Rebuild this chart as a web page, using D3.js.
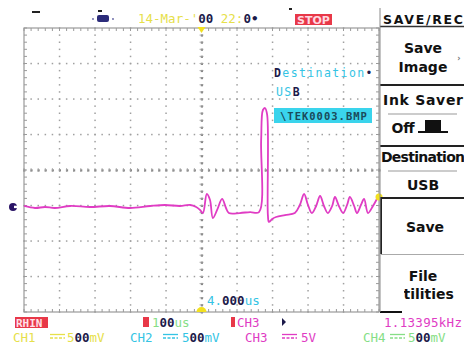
<!DOCTYPE html>
<html><head><meta charset="utf-8">
<script src="https://cdn.jsdelivr.net/npm/d3@7"></script>
<style>body{margin:0;background:#fff}svg{display:block}</style>
</head><body>
<script>
// ---- data (CH3, 5 V/div, 1 us/div) ----
const timeUs = [-5.00,-4.69,-4.41,-4.13,-3.70,-3.14,-2.58,-2.01,-1.45,-1.03,
  -0.61,-0.32,-0.15,-0.04,0.04,0.15,0.24,0.32,0.44,0.58,
  0.69,0.77,1.08,1.37,1.62,1.68,1.73,1.79,1.85,1.87,
  1.90,1.99,2.10,2.35,2.63,2.77,2.89,3.00,3.11,3.23,
  3.34,3.45,3.56,3.68,3.76,3.87,3.99,4.10,4.18,4.30,
  4.38,4.49,4.58,4.69,4.83,4.97];
const ch3Volts = [-5.07,-5.35,-5.21,-5.35,-5.07,-5.21,-5.07,-5.35,-5.07,-4.93,
  -5.07,-4.93,-5.21,-5.63,-6.06,-3.38,-4.23,-6.76,-5.63,-4.08,
  -5.35,-6.06,-6.06,-5.92,-5.92,4.23,8.45,8.73,7.75,-6.34,
  -7.32,-6.90,-6.62,-6.34,-6.06,-4.93,-3.38,-4.93,-6.06,-5.07,
  -3.66,-5.07,-6.06,-5.07,-3.80,-5.07,-6.06,-4.93,-3.80,-5.07,
  -6.06,-4.93,-4.08,-6.06,-5.07,-3.80];
const timeDomain = [-5, 5];      // 10 divisions
const voltDomain = [-20, 20];    // 8 divisions at 5 V/div
const ch3Ground = -5.2;
const triggerLevel = -3.8;
const menuTitle = "SAVE/REC";
const menuItems = [["Save","Image"],["Ink Saver","Off"],["Destination","USB"],["Save"],["File","Utilities"]];
const channelLabels = ["CH1","CH2","CH3","CH4"];
const channelScales = ["5","5","5V","5"];
const frequencyText = "1.13395kHz";

const W = 464, H = 345;
const svg = d3.select("body").append("svg").attr("width", W).attr("height", H);
const x = d3.scaleLinear().domain(timeDomain).range([24, 379]);
const y = d3.scaleLinear().domain(voltDomain).range([312, 28]);
const mono = "DejaVu Sans Mono";
const dark = "#1c1a4a";
const YEL = "#e6e04a", CYN = "#34c4e4", MAG = "#e03cc4", GRN = "#86de86";

// ---- graticule ----
const g = svg.append("g");
const gridCol = "#a0a0a0";
const minorX = d3.range(-5, 5.001, 0.2);
const minorY = d3.range(-20, 20.001, 1);
x.ticks(10).forEach(t => {
  if (t === -5 || t === 5) return;
  minorY.forEach(v => {
    g.append("rect").attr("x", x(t) - 0.7).attr("y", y(v) - 0.7)
      .attr("width", t === 0 ? 2.2 : 1.5).attr("height", t === 0 ? 2.2 : 1.5)
      .attr("fill", t === 0 ? "#858585" : gridCol);
  });
});
y.ticks(8).forEach(v => {
  if (v === -20 || v === 20) return;
  minorX.forEach(t => {
    g.append("rect").attr("x", x(t) - 0.7).attr("y", y(v) - 0.7)
      .attr("width", v === 0 ? 2.2 : 1.5).attr("height", v === 0 ? 2.2 : 1.5)
      .attr("fill", v === 0 ? "#858585" : gridCol);
  });
});
minorX.forEach(t => g.append("line").attr("x1", x(t)).attr("x2", x(t))
  .attr("y1", y(0) - 2).attr("y2", y(0) + 2).attr("stroke", "#a0a0a0").attr("stroke-width", 0.8));
minorY.forEach(v => g.append("line").attr("y1", y(v)).attr("y2", y(v))
  .attr("x1", x(0) - 2).attr("x2", x(0) + 2).attr("stroke", "#a0a0a0").attr("stroke-width", 0.8));
g.append("rect").attr("x", x(-5)).attr("y", y(20)).attr("width", x(5) - x(-5)).attr("height", y(-20) - y(20))
  .attr("fill", "none").attr("stroke", "#9a9a9a").attr("stroke-width", 1.2);
minorX.forEach(t => {
  g.append("line").attr("x1", x(t)).attr("x2", x(t)).attr("y1", y(20)).attr("y2", y(20) + 3).attr("stroke", "#9a9a9a");
  g.append("line").attr("x1", x(t)).attr("x2", x(t)).attr("y1", y(-20)).attr("y2", y(-20) - 3).attr("stroke", "#9a9a9a");
});
minorY.forEach(v => {
  g.append("line").attr("y1", y(v)).attr("y2", y(v)).attr("x1", x(-5)).attr("x2", x(-5) + 3).attr("stroke", "#9a9a9a");
  g.append("line").attr("y1", y(v)).attr("y2", y(v)).attr("x1", x(5)).attr("x2", x(5) - 3).attr("stroke", "#9a9a9a");
});

// ---- trace ----
const pts = timeUs.map((t, i) => [t, ch3Volts[i]]);
svg.append("path").datum(pts)
  .attr("d", d3.line().x(d => x(d[0])).y(d => y(d[1])).curve(d3.curveCatmullRom.alpha(0.5)))
  .attr("fill", "none").attr("stroke", MAG).attr("stroke-width", 1.8).attr("stroke-linejoin", "round");

// markers
svg.append("circle").attr("cx", 13).attr("cy", y(ch3Ground)).attr("r", 4).attr("fill", "#2a1466");
svg.append("rect").attr("x", 14).attr("y", y(ch3Ground) - 1.2).attr("width", 4).attr("height", 2.4).attr("fill", "#fff");
svg.append("path").attr("d", `M${x(0)-4},${y(20)-1}L${x(0)+4},${y(20)-1}L${x(0)},${y(20)+5}Z`).attr("fill", "#f2e020");
svg.append("path").attr("d", `M${x(0)-5},${y(-20)}A5,5 0 0 1 ${x(0)+5},${y(-20)}Z`).attr("fill", "#f2e020");
svg.append("circle").attr("cx", x(5)).attr("cy", y(triggerLevel)).attr("r", 3.5).attr("fill", "#f2e020");

// ---- overlay: destination info ----
const ov = svg.append("text").attr("x", 274).attr("y", 77).attr("font-family", mono).attr("font-size", 11.5)
  .attr("letter-spacing", 1.4);
ov.append("tspan").attr("fill", dark).attr("font-weight", "bold").text("D");
ov.append("tspan").attr("fill", CYN).text("estination");
ov.append("tspan").attr("fill", dark).text("•");
const ov2 = svg.append("text").attr("x", 276).attr("y", 96).attr("font-family", mono).attr("font-size", 11.5).attr("letter-spacing", 1.4);
ov2.append("tspan").attr("fill", CYN).text("US");
ov2.append("tspan").attr("fill", dark).attr("font-weight", "bold").text("B");
svg.append("rect").attr("x", 274).attr("y", 108).attr("width", 98).attr("height", 15).attr("fill", "#3ad4ec");
svg.append("text").attr("x", 280).attr("y", 119.5).attr("font-family", mono).attr("font-size", 10.5)
  .attr("fill", "#1a4a5a").attr("font-weight", "bold").attr("letter-spacing", 1).text("\\TEK0003.BMP");
const tp = svg.append("text").attr("x", 207).attr("y", 305).attr("font-family", mono).attr("font-size", 12.5);
tp.append("tspan").attr("fill", CYN).text("4.");
tp.append("tspan").attr("fill", dark).attr("font-weight", "bold").text("000");
tp.append("tspan").attr("fill", CYN).text("us");

// ---- top status line ----
svg.append("rect").attr("x", 32).attr("y", 11).attr("width", 8).attr("height", 2).attr("fill", "#222");
svg.append("rect").attr("x", 98).attr("y", 10).attr("width", 4).attr("height", 2).attr("fill", "#222");
svg.append("rect").attr("x", 289).attr("y", 8).attr("width", 3).attr("height", 2).attr("fill", "#222");
svg.append("circle").attr("cx", 93).attr("cy", 19).attr("r", 0.9).attr("fill", "#6060a0");
svg.append("rect").attr("x", 97).attr("y", 15).attr("width", 12).attr("height", 7).attr("rx", 2).attr("fill", "#2c2c7a");
svg.append("circle").attr("cx", 113).attr("cy", 19).attr("r", 0.9).attr("fill", "#6060a0");
const dt = svg.append("text").attr("x", 138).attr("y", 23).attr("font-family", mono).attr("font-size", 12.5);
dt.append("tspan").attr("fill", YEL).text("14-Mar-'");
dt.append("tspan").attr("fill", dark).attr("font-weight", "bold").text("00");
dt.append("tspan").attr("fill", YEL).text(" 22:");
dt.append("tspan").attr("fill", dark).attr("font-weight", "bold").text("0•");
svg.append("rect").attr("x", 295).attr("y", 14).attr("width", 37).attr("height", 11).attr("fill", "#e83848");
svg.append("text").attr("x", 313.5).attr("y", 23.5).attr("text-anchor", "middle").attr("font-family", "DejaVu Sans")
  .attr("font-weight", "bold").attr("font-size", 11).attr("fill", "#ffd8e0").text("STOP");

// ---- right menu ----
const m = svg.append("g").attr("font-family", "DejaVu Sans").attr("font-weight", "bold").attr("fill", "#111").attr("text-anchor", "middle");
m.append("text").attr("x", 423).attr("y", 23.5).attr("font-size", 12.5).attr("textLength", 80).text(menuTitle);
m.append("line").attr("x1", 380).attr("x2", 464).attr("y1", 26.5).attr("y2", 26.5).attr("stroke", "#333").attr("stroke-width", 1.3);
svg.append("line").attr("x1", 380).attr("x2", 380).attr("y1", 8).attr("y2", 312).attr("stroke", "#8a8a8a").attr("stroke-width", 1);
m.append("text").attr("x", 423).attr("y", 53).attr("font-size", 14).text(menuItems[0][0]);
m.append("text").attr("x", 423).attr("y", 72).attr("font-size", 14).text(menuItems[0][1]);
m.append("text").attr("x", 459).attr("y", 61).attr("font-size", 8).attr("fill", "#777").text("›");
m.append("line").attr("x1", 380).attr("x2", 464).attr("y1", 85).attr("y2", 85).attr("stroke", "#222").attr("stroke-width", 2);
m.append("text").attr("x", 423).attr("y", 105).attr("font-size", 14).attr("textLength", 80).text(menuItems[1][0]);
m.append("line").attr("x1", 388).attr("x2", 457).attr("y1", 114).attr("y2", 114).attr("stroke", "#999").attr("stroke-width", 1.2);
m.append("text").attr("x", 403).attr("y", 133).attr("font-size", 14).text(menuItems[1][1]);
m.append("path").attr("d", "M418,133L448,133L448,131L441,131L441,120L425,120L425,131L418,131Z").attr("fill", "#111");
m.append("line").attr("x1", 380).attr("x2", 464).attr("y1", 146).attr("y2", 146).attr("stroke", "#222").attr("stroke-width", 2);
m.append("text").attr("x", 423).attr("y", 162).attr("font-size", 14).attr("textLength", 84).text(menuItems[2][0]);
m.append("line").attr("x1", 388).attr("x2", 457).attr("y1", 171).attr("y2", 171).attr("stroke", "#999").attr("stroke-width", 1.2);
m.append("text").attr("x", 423).attr("y", 190).attr("font-size", 14).text(menuItems[2][1]);
m.append("path").attr("d", "M464,198L381,198L381,254").attr("fill", "none").attr("stroke", "#222").attr("stroke-width", 2);
m.append("line").attr("x1", 381).attr("x2", 464).attr("y1", 254.5).attr("y2", 254.5).attr("stroke", "#aaa").attr("stroke-width", 1);
m.append("text").attr("x", 425).attr("y", 232).attr("font-size", 14).text(menuItems[3][0]);
m.append("text").attr("x", 423).attr("y", 281).attr("font-size", 14).text(menuItems[4][0]);
svg.append("clipPath").attr("id", "utl").append("rect").attr("x", 404).attr("y", 282).attr("width", 60).attr("height", 30);
m.append("text").attr("x", 423).attr("y", 299).attr("font-size", 14).attr("clip-path", "url(#utl)").text(menuItems[4][1]);
m.append("line").attr("x1", 380).attr("x2", 402).attr("y1", 312).attr("y2", 312).attr("stroke", "#111").attr("stroke-width", 2);

// ---- bottom status lines ----
const st = svg.append("g").attr("font-family", mono).attr("font-size", 12.5);
st.append("rect").attr("x", 15).attr("y", 317).attr("width", 33).attr("height", 11).attr("fill", "#e83848");
st.append("text").attr("x", 16).attr("y", 327).attr("fill", "#ffe0e8").attr("font-weight", "bold").attr("font-size", 11).text("RHIN");
st.append("rect").attr("x", 143).attr("y", 317).attr("width", 6).attr("height", 10).attr("fill", "#e83848");
const mt = st.append("text").attr("x", 152).attr("y", 327);
mt.append("tspan").attr("fill", GRN).text("1");
mt.append("tspan").attr("fill", dark).attr("font-weight", "bold").text("00");
mt.append("tspan").attr("fill", GRN).text("us");
st.append("rect").attr("x", 231).attr("y", 317).attr("width", 4).attr("height", 10).attr("fill", "#e83848");
st.append("text").attr("x", 237).attr("y", 327).attr("fill", MAG).text("CH3");
st.append("path").attr("d", "M282,318L286,322L282,326Z").attr("fill", dark);
st.append("text").attr("x", 384).attr("y", 327).attr("fill", MAG).attr("letter-spacing", 0.3).text(frequencyText);

const chCols = [YEL, CYN, MAG, GRN];
const chX = [13, 130, 245, 363];
const eqX = [50, 163, 282, 390];
const valX = [67, 182, 301, 408];
channelLabels.forEach((c, i) => {
  st.append("text").attr("x", chX[i]).attr("y", 342).attr("fill", chCols[i]).text(c);
  st.append("line").attr("x1", eqX[i]).attr("x2", eqX[i] + 15).attr("y1", 334.5).attr("y2", 334.5).attr("stroke", chCols[i]).attr("stroke-width", 1.3);
  st.append("line").attr("x1", eqX[i]).attr("x2", eqX[i] + 15).attr("y1", 338).attr("y2", 338).attr("stroke", chCols[i]).attr("stroke-width", 1.3).attr("stroke-dasharray", "3,1.5");
  const t = st.append("text").attr("x", valX[i]).attr("y", 342);
  t.append("tspan").attr("fill", chCols[i]).text(channelScales[i]);
  if (channelScales[i] !== "5V") {
    t.append("tspan").attr("fill", dark).attr("font-weight", "bold").text("00");
    t.append("tspan").attr("fill", chCols[i]).text("mV");
  }
});
</script>
</body></html>
